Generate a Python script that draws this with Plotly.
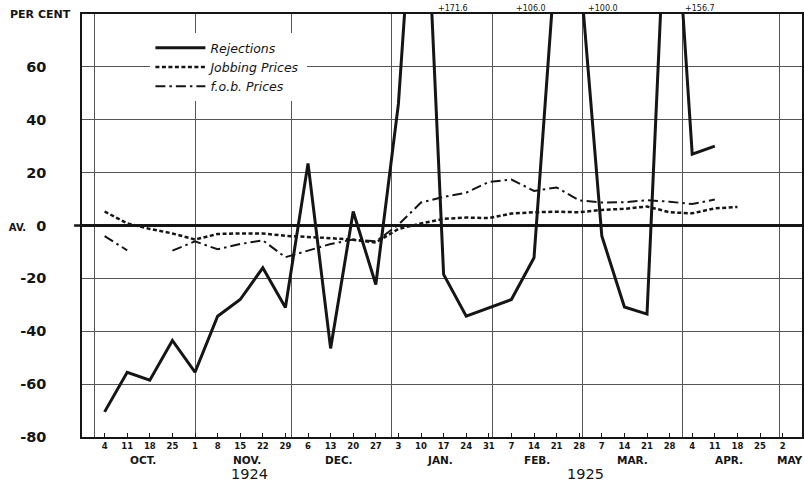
import plotly.graph_objects as go

# ---- data ----
week_dates = ["1924-10-04", "1924-10-11", "1924-10-18", "1924-10-25", "1924-11-01",
              "1924-11-08", "1924-11-15", "1924-11-22", "1924-11-29", "1924-12-06",
              "1924-12-13", "1924-12-20", "1924-12-27", "1925-01-03", "1925-01-10",
              "1925-01-17", "1925-01-24", "1925-01-31", "1925-02-07", "1925-02-14",
              "1925-02-21", "1925-02-28", "1925-03-07", "1925-03-14", "1925-03-21",
              "1925-03-28", "1925-04-04", "1925-04-11", "1925-04-18", "1925-04-25",
              "1925-05-02", "1925-05-09"]
day_labels = ["4", "11", "18", "25", "1", "8", "15", "22", "29", "6", "13", "20", "27",
              "3", "10", "17", "24", "31", "7", "14", "21", "28", "7", "14", "21", "28",
              "4", "11", "18", "25", "2", "9"]
month_starts = ["1924-10-01", "1924-11-01", "1924-12-01", "1925-01-01", "1925-02-01",
                "1925-03-01", "1925-04-01", "1925-05-01"]
month_names = ["OCT.", "NOV.", "DEC.", "JAN.", "FEB.", "MAR.", "APR.", "MAY"]
years = ["1924", "1925"]

rejections = [-70.5, -55.5, -58.5, -43.5, -55.5, -34.3, -28, -16, -31, 23.5,
              -46.5, 5.3, -22.3, 46, 171.6, -18.5, -34.3, -31, -28, -12.2,
              106.0, 100.0, -4, -30.8, -33.5, 156.7, 27, 30]
jobbing = [5.3, 0.8, -1.3, -3.0, -5.3, -3.2, -3.0, -3.0, -3.9, -4.3,
           -4.8, -5.4, -6.4, -1.3, 0.8, 2.5, 3.0, 2.8, 4.5, 5.0,
           5.2, 5.0, 5.9, 6.3, 7.2, 5.0, 4.6, 6.5, 7.0]
fob = [-4, -9.4, None, -9.5, -6, -9, -7, -5.6, -12, -9.5,
       -7, -5.3, -6, 0.3, 8.7, 10.8, 12.4, 16.5, 17.4, 13.1,
       14.4, 9.5, 8.7, 8.8, 9.6, 9.0, 8.1, 9.8]

# off-scale rejection peaks labelled at top: (index, label text)
peak_labels = [(14, "+171.6"), (20, "+106.0"), (21, "+100.0"), (25, "+156.7")]

y_ticks = [-80, -60, -40, -20, 0, 20, 40, 60, 80]
y_text = ["-80", "-60", "-40", "-20",
          "<span style='font-size:10px'>AV.</span>\u00a0\u00a00",
          "20", "40", "60", ""]

INK = "#151515"
GRID = "#555555"
FONT = "DejaVu Sans"

fig = go.Figure()
fig.add_trace(go.Scatter(x=week_dates[:len(rejections)], y=rejections, mode="lines",
                         name="Rejections", line=dict(color=INK, width=3)))
fig.add_trace(go.Scatter(x=week_dates[:len(jobbing)], y=jobbing, mode="lines",
                         name="Jobbing Prices",
                         line=dict(color=INK, width=2.5, dash="4px,2.5px")))
fig.add_trace(go.Scatter(x=week_dates[:len(fob)], y=fob, mode="lines",
                         name="f.o.b. Prices", connectgaps=False,
                         line=dict(color=INK, width=2, dash="10px,4px,2.5px,4px")))

annotations = []
annotations.append(dict(text="PER CENT", xref="paper", yref="y", x=0, y=80,
                        xanchor="right", yanchor="middle", xshift=-9, showarrow=False,
                        font=dict(family=FONT, size=11, color=INK, weight="bold")))
month_centers = ["1924-10-16", "1924-11-17", "1924-12-15 14:00", "1925-01-16",
                 "1925-02-14 22:00", "1925-03-16 14:00", "1925-04-15 10:00", "1925-05-04 06:00"]
for name, xc in zip(month_names, month_centers):
    annotations.append(dict(text=name, xref="x", yref="paper", x=xc, y=-0.054,
                            xanchor="center", yanchor="middle", showarrow=False,
                            font=dict(family=FONT, size=10.5, color=INK, weight="bold")))
for yr, xc in zip(years, ["1924-11-18", "1925-03-02"]):
    annotations.append(dict(text=yr, xref="x", yref="paper", x=xc, y=-0.088,
                            xanchor="center", yanchor="middle", showarrow=False,
                            font=dict(family=FONT, size=14.5, color=INK)))
peak_shift = {14: ("left", 15), 20: ("right", -9), 21: ("left", 7), 25: ("left", 13)}
for idx, txt in peak_labels:
    anc, sh = peak_shift[idx]
    annotations.append(dict(text=txt, xref="x", yref="paper", x=week_dates[idx], y=1,
                            xanchor=anc, yanchor="bottom", xshift=sh, yshift=-1,
                            showarrow=False,
                            font=dict(family=FONT, size=8, color=INK)))

fig.update_layout(
    width=804, height=482,
    margin=dict(l=82, r=2, t=14, b=45, autoexpand=False),
    paper_bgcolor="white", plot_bgcolor="white",
    showlegend=True,
    legend=dict(x=0.095, y=0.955, xanchor="left", yanchor="top",
                bgcolor="white", borderwidth=0, itemwidth=50,
                tracegroupgap=0,
                font=dict(family=FONT, size=12.5, color=INK, style="italic")),
    annotations=annotations,
    shapes=[dict(type="line", xref="paper", yref="y", x0=-0.011, x1=0, y0=0, y1=0,
                 line=dict(color=INK, width=2.5))],
    xaxis=dict(type="date", range=["1924-09-27", "1925-05-08"], automargin=False,
               tickmode="array", tickvals=week_dates, ticktext=day_labels,
               ticks="inside", ticklen=4, tickwidth=1, tickcolor=INK,
               showgrid=False, zeroline=False,
               showline=True, linecolor=INK, linewidth=1.5, mirror=True,
               tickfont=dict(family=FONT, size=8.5, color=INK, weight="bold"),
               minor=dict(tickmode="array", tickvals=month_starts, showgrid=True,
                          gridcolor=GRID, gridwidth=1, ticks="")),
    yaxis=dict(range=[-80, 80], tickmode="array", tickvals=y_ticks, ticktext=y_text,
               automargin=False,
               showgrid=True, gridcolor=GRID, gridwidth=1,
               zeroline=True, zerolinecolor=INK, zerolinewidth=2.5,
               showline=True, linecolor=INK, linewidth=1.5, mirror=True,
               ticks="", ticklabelstandoff=31,
               tickfont=dict(family=FONT, size=14.5, color=INK, weight="bold")),
)

fig.write_html("out.html", config={"displayModeBar": False},
               post_script="document.body.style.margin='0';document.body.style.overflow='hidden';")
